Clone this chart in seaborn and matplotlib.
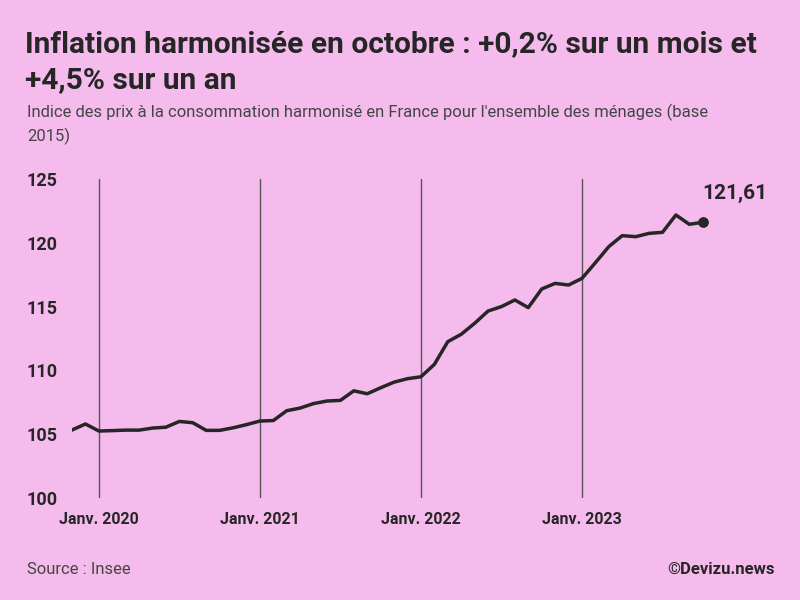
import numpy as np
import pandas as pd
import matplotlib
matplotlib.use("Agg")
import matplotlib.pyplot as plt
import seaborn as sns

# monthly HICP France, Nov 2019 -> Oct 2023
months = pd.date_range("2019-11-01", "2023-10-01", freq="MS")
values = [105.33, 105.80,
          105.25, 105.28, 105.32, 105.32, 105.48, 105.55, 106.00, 105.90, 105.30, 105.30, 105.50, 105.75,
          106.03, 106.07, 106.84, 107.05, 107.40, 107.60, 107.65, 108.40, 108.17, 108.64, 109.08, 109.35,
          109.50, 110.47, 112.25, 112.83, 113.69, 114.65, 115.00, 115.52, 114.92, 116.38, 116.82, 116.69,
          117.21, 118.44, 119.70, 120.56, 120.48, 120.74, 120.82, 122.18, 121.45, 121.61]
year_labels = ["Janv. 2020", "Janv. 2021", "Janv. 2022", "Janv. 2023"]
y_ticks = [100, 105, 110, 115, 120, 125]

bg = "#f4bbec"
ink = "#262626"
plt.rcParams["font.family"] = "Roboto"

df = pd.DataFrame({"idx": np.arange(len(months)), "value": values})

fig = plt.figure(figsize=(8, 6), dpi=100, facecolor=bg)
ax = fig.add_axes([72 / 800, 102 / 600, 671 / 800, 319 / 600], facecolor=bg)

jan_idx = [i for i, d in enumerate(months) if d.month == 1]
for i in jan_idx:
    ax.axvline(i, color="#555555", lw=1, zorder=1)

sns.lineplot(data=df, x="idx", y="value", ax=ax, color=ink, lw=2.5, zorder=3)
ax.scatter(df["idx"].iloc[-1], df["value"].iloc[-1], s=45, color=ink, zorder=4)
ax.annotate("121,61", (df["idx"].iloc[-1], df["value"].iloc[-1]), xytext=(0, 14),
            textcoords="offset points", fontsize=15, fontweight="bold", color=ink, ha="left", va="bottom")

ax.set_xlim(0, 50)
ax.set_ylim(100, 125)
ax.set_yticks(y_ticks)
ax.set_yticklabels([str(v) for v in y_ticks], fontsize=13, fontweight="bold", color=ink, ha="left")
ax.tick_params(axis="y", length=0, pad=33)
ax.set_xticks(jan_idx)
ax.set_xticklabels(year_labels, fontsize=11.5, fontweight="bold", color=ink)
ax.tick_params(axis="x", length=0, pad=10)
ax.set_xlabel("")
ax.set_ylabel("")
for s in ax.spines.values():
    s.set_visible(False)

fig.text(25 / 800, 1 - 44 / 600, "Inflation harmonisée en octobre : +0,2% sur un mois et",
         fontsize=21.5, fontweight="bold", color=ink, va="center")
fig.text(25 / 800, 1 - 80 / 600, "+4,5% sur un an",
         fontsize=21.5, fontweight="bold", color=ink, va="center")
fig.text(27 / 800, 1 - 112 / 600, "Indice des prix à la consommation harmonisé en France pour l'ensemble des ménages (base",
         fontsize=12, color="#444444", va="center")
fig.text(27 / 800, 1 - 136 / 600, "2015)", fontsize=12, color="#444444", va="center")
fig.text(27 / 800, 1 - 569 / 600, "Source : Insee", fontsize=12, color="#444444", va="center")
fig.text(775 / 800, 1 - 569 / 600, "©Devizu.news", fontsize=12, fontweight="bold", color=ink, va="center", ha="right")

fig.savefig("out.png", dpi=100, facecolor=bg)
